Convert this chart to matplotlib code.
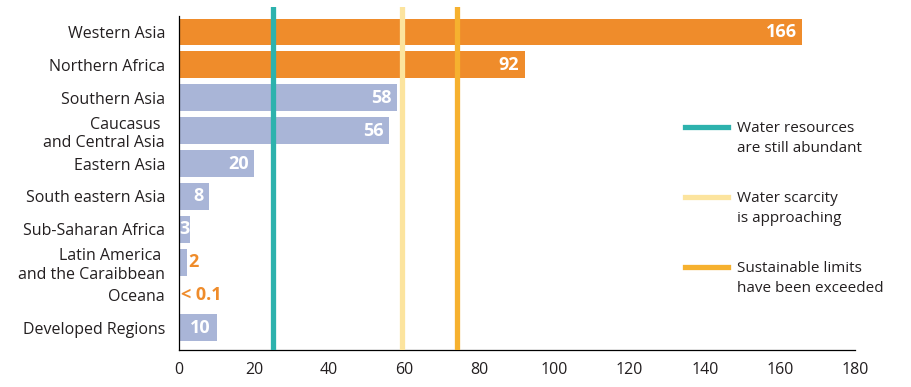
import matplotlib
matplotlib.use("Agg")
import matplotlib.pyplot as plt
from matplotlib.lines import Line2D

plt.rcParams['font.family'] = ['Open Sans', 'DejaVu Sans']

regions = ['Western Asia', 'Northern Africa', 'Southern Asia',
           'Caucasus \nand Central Asia', 'Eastern Asia', 'South eastern Asia',
           'Sub-Saharan Africa', 'Latin America \nand the Caraibbean', 'Oceana',
           'Developed Regions']
values = [166, 92, 58, 56, 20, 8, 3, 2, 0.05, 10]
value_labels = ['166', '92', '58', '56', '20', '8', '3', '2', '< 0.1', '10']

thresholds = [25, 59.5, 74]
threshold_labels = ['Water resources\nare still abundant',
                    'Water scarcity\nis approaching',
                    'Sustainable limits\nhave been exceeded']
threshold_colors = ['#2DB2AD', '#FCE49E', '#F6B12F']

xticks = [0, 20, 40, 60, 80, 100, 120, 140, 160, 180]

ORANGE = '#EF8C2B'
LAVENDER = '#A9B5D7'
TEXT = '#231F20'

fig = plt.figure(figsize=(9.12, 3.87), dpi=100)
ax = fig.add_axes([179 / 912, 1 - 350 / 387, 676 / 912, 343 / 387])

ypos = list(range(len(regions)))
bar_colors = [ORANGE if v > thresholds[-1] else LAVENDER for v in values]
ax.barh(ypos, values, height=0.82, color=bar_colors, zorder=2)

# threshold lines
for t, c in zip(thresholds, threshold_colors):
    ax.axvline(t, ymin=0.005, ymax=1.0, color=c, lw=3.8, zorder=3)

# value labels: inside bar if wide enough, else outside in orange
for y, v, lab in zip(ypos, values, value_labels):
    if v >= 3:
        ax.text(v - 1.5 if v > 5 else v - 0.2, y, lab, ha='right', va='center',
                color='white', fontsize=13, fontweight='bold', zorder=4)
    else:
        ax.text(v + 0.6, y, lab, ha='left', va='center',
                color=ORANGE, fontsize=13, fontweight='bold', zorder=4)

ax.set_xlim(0, 180)
ax.set_ylim(len(regions) - 1 + 0.67, -0.76)
ax.set_xticks(xticks)
ax.set_yticks(ypos)
ax.set_yticklabels(regions, linespacing=1.2)
ax.tick_params(axis='both', length=0, labelsize=11.5, colors=TEXT)
ax.tick_params(axis='y', pad=10)
ax.tick_params(axis='x', pad=9)

for s in ['top', 'right']:
    ax.spines[s].set_visible(False)
ax.spines['left'].set_bounds(len(regions) - 1 + 0.67, -0.48)
ax.spines['left'].set_linewidth(0.9)
ax.spines['bottom'].set_linewidth(0.9)
ax.spines['left'].set_zorder(5)

# legend drawn by hand so the line sits on the first text line
ly = [127, 197, 267]
for y, lab, c in zip(ly, threshold_labels, threshold_colors):
    fy = 1 - y / 387
    fig.add_artist(Line2D([685 / 912, 728 / 912], [fy, fy], color=c, lw=3.8,
                          transform=fig.transFigure))
    fig.text(737 / 912, fy + 6 / 387, lab, ha='left', va='top', fontsize=11,
             color=TEXT, linespacing=1.5)

fig.savefig('out.png', dpi=100)
